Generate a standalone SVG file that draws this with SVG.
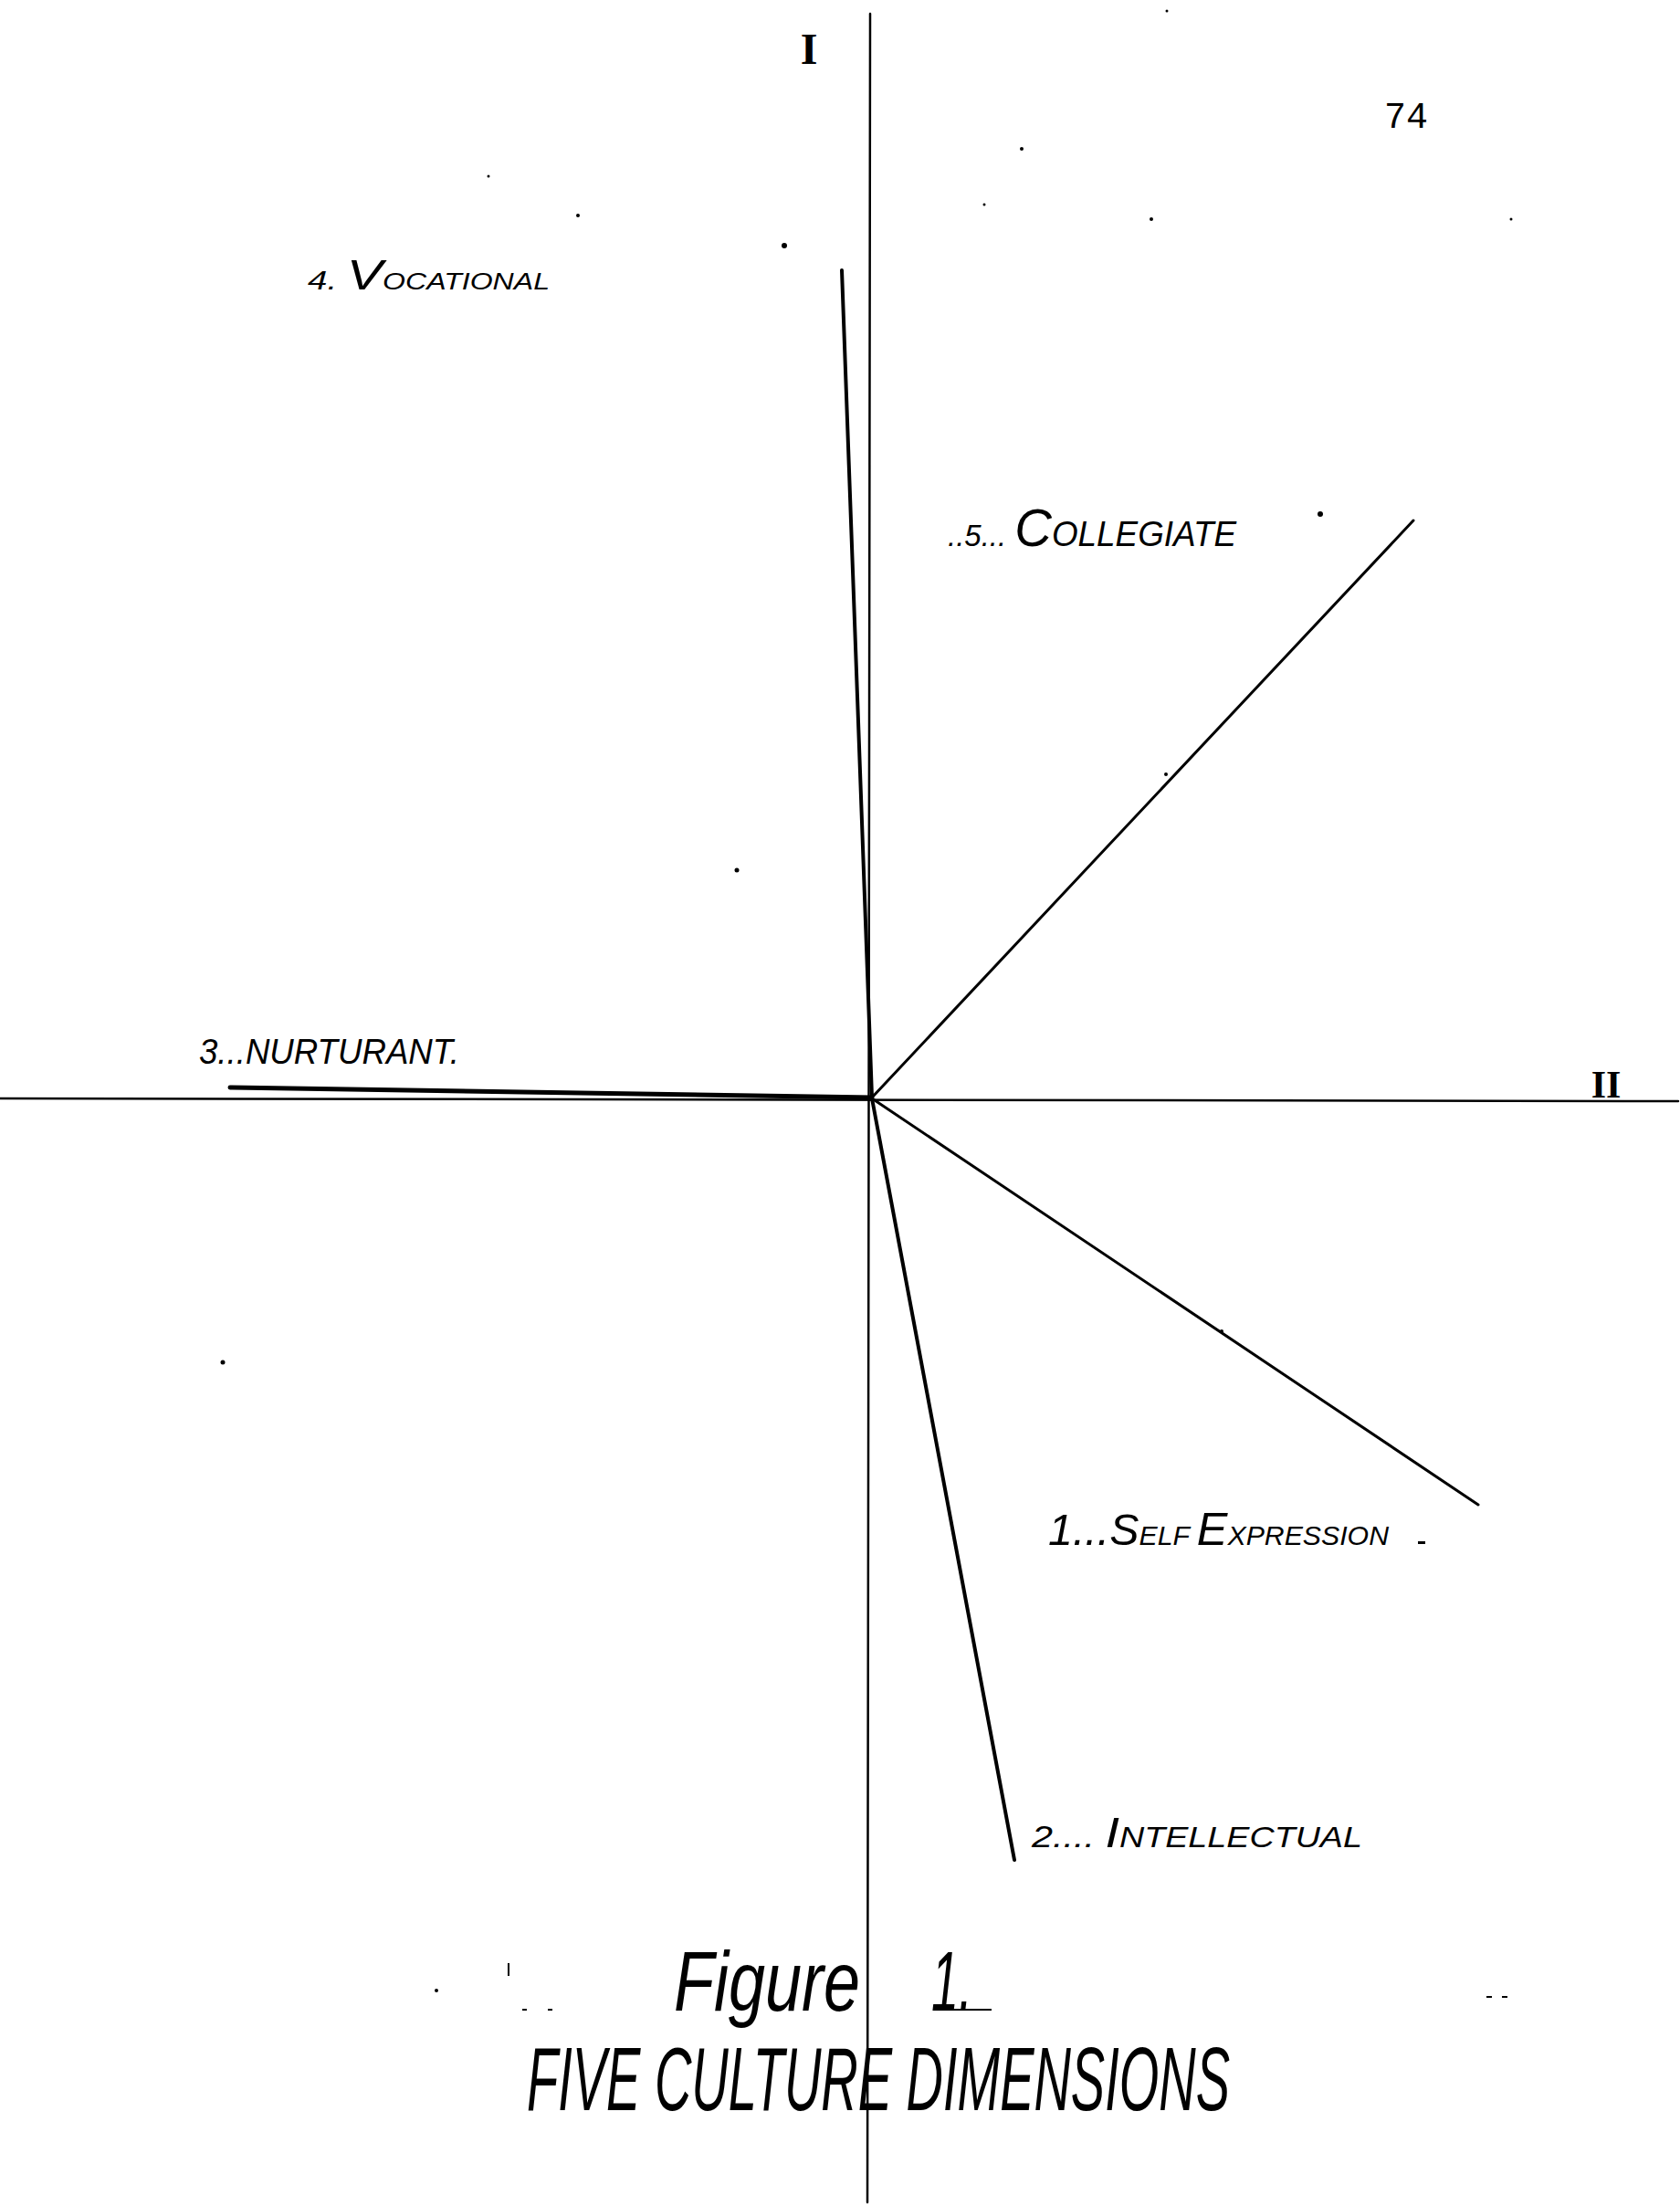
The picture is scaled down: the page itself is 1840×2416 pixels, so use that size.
<svg xmlns="http://www.w3.org/2000/svg" width="1840" height="2416" viewBox="0 0 1840 2416">
<style>
.ax{stroke:#000;stroke-width:2.5;fill:none;stroke-linecap:round}
.ln{stroke:#000;stroke-width:3;fill:none;stroke-linecap:round}
.lb{font-family:"Liberation Sans",Arial,sans-serif;font-style:italic;fill:#000}
.num{font-family:"Liberation Mono","Courier New",monospace;fill:#000}
.sp{fill:#000}
</style>
<rect width="1840" height="2416" fill="#fff"/>
<g id="axes">
<line class="ax" x1="953" y1="15" x2="950" y2="2412"/>
<line class="ax" x1="0" y1="1203" x2="1838" y2="1206"/>
</g>
<g id="connectors">
<line class="ln" x1="955" y1="1202" x2="922" y2="296" style="stroke-width:4"/>
<line class="ln" x1="955" y1="1202" x2="1548" y2="570"/>
<line class="ln" x1="955" y1="1202" x2="252" y2="1191" style="stroke-width:5"/>
<line class="ln" x1="955" y1="1203" x2="1619" y2="1648"/>
<line class="ln" x1="955" y1="1203" x2="1111" y2="2037" style="stroke-width:4"/>
</g>
<g id="axis-I"><text x="886" y="70" text-anchor="middle" style="font-family:'Liberation Serif',serif;font-weight:bold;font-size:48px">I</text></g>
<g id="axis-II"><text x="1759" y="1202" text-anchor="middle" style="font-family:'Liberation Serif',serif;font-weight:bold;font-size:42px">II</text></g>
<g id="page-number"><text class="num" x="1516" y="140" style="font-size:40px">74</text></g>
<g id="node-4-vocational"><text class="lb" x="337" y="317" textLength="265" lengthAdjust="spacingAndGlyphs"><tspan style="font-size:30px">4.  </tspan><tspan style="font-size:46px">V</tspan><tspan style="font-size:25px">OCATIONAL</tspan></text></g>
<g id="node-5-collegiate"><text class="lb" x="1038" y="598" textLength="316" lengthAdjust="spacingAndGlyphs"><tspan style="font-size:34px">..5... </tspan><tspan style="font-size:58px">C</tspan><tspan style="font-size:38px">OLLEGIATE</tspan></text></g>
<g id="node-3-nurturant"><text class="lb" x="218" y="1165" textLength="285" lengthAdjust="spacingAndGlyphs" style="font-size:39px">3...NURTURANT.</text></g>
<g id="node-1-self-expression"><text class="lb" x="1148" y="1692" textLength="373" lengthAdjust="spacingAndGlyphs"><tspan style="font-size:48px">1...S</tspan><tspan style="font-size:30px">ELF </tspan><tspan style="font-size:50px">E</tspan><tspan style="font-size:30px">XPRESSION</tspan></text><rect class="sp" x="1553" y="1688" width="8" height="3"/></g>
<g id="node-2-intellectual"><text class="lb" x="1130" y="2023" textLength="362" lengthAdjust="spacingAndGlyphs"><tspan style="font-size:34px">2....  </tspan><tspan style="font-size:46px">I</tspan><tspan style="font-size:31px">NTELLECTUAL</tspan></text></g>
<g id="caption">
<text class="lb" transform="translate(738,2202) scale(1,1.45)" x="0" y="0" textLength="204" lengthAdjust="spacingAndGlyphs" style="font-size:64px">Figure</text>
<text class="lb" transform="translate(1020,2202) scale(1,1.45)" x="0" y="0" textLength="45" lengthAdjust="spacingAndGlyphs" style="font-size:64px">1.</text>
<line x1="1040" y1="2201" x2="1086" y2="2201" stroke="#000" stroke-width="2"/>
<text class="lb" transform="translate(577,2311) scale(1,1.58)" x="0" y="0" textLength="770" lengthAdjust="spacingAndGlyphs" style="font-size:62px">FIVE  CULTURE DIMENSIONS</text>
</g>
<g id="specks">
<circle class="sp" cx="1446" cy="563" r="3"/>
<circle class="sp" cx="1277" cy="848" r="2"/>
<circle class="sp" cx="1338" cy="1458" r="2"/>
<circle class="sp" cx="859" cy="269" r="3"/>
<circle class="sp" cx="807" cy="953" r="2.5"/>
<circle class="sp" cx="244" cy="1492" r="2.5"/>
<circle class="sp" cx="1119" cy="163" r="2"/>
<circle class="sp" cx="633" cy="236" r="2"/>
<circle class="sp" cx="1261" cy="240" r="2"/>
<circle class="sp" cx="1078" cy="224" r="1.5"/>
<circle class="sp" cx="535" cy="193" r="1.5"/>
<circle class="sp" cx="1655" cy="240" r="1.5"/>
<circle class="sp" cx="1278" cy="12" r="1.5"/>
<circle class="sp" cx="478" cy="2180" r="2"/>
<rect class="sp" x="556" y="2150" width="2" height="14"/>
<rect class="sp" x="572" y="2200" width="5" height="2"/>
<rect class="sp" x="600" y="2200" width="5" height="2"/>
<rect class="sp" x="1628" y="2186" width="6" height="2"/>
<rect class="sp" x="1645" y="2186" width="6" height="2"/>
</g>
</svg>
